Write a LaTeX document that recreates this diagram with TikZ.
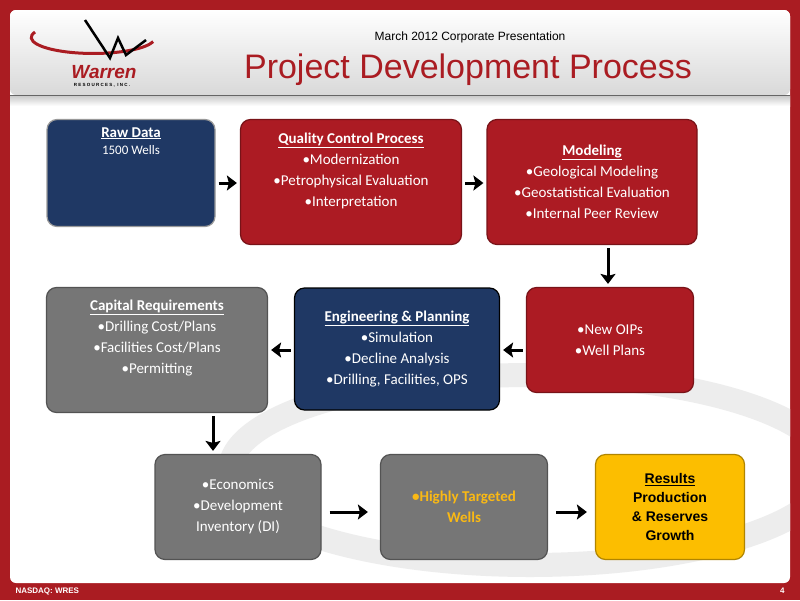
\documentclass[tikz,border=0pt]{standalone}
\usepackage{fontspec}
\setmainfont{Carlito}
\newfontfamily\arialfont{Liberation Sans}
\usetikzlibrary{positioning,arrows.meta,calc}
\definecolor{wred}{RGB}{170,28,34}
\definecolor{boxred}{RGB}{172,27,35}
\definecolor{navy}{RGB}{31,56,100}
\definecolor{boxgray}{RGB}{118,118,118}
\definecolor{gold}{RGB}{252,190,0}
\definecolor{goldtxt}{RGB}{250,185,20}
\begin{document}
\begin{tikzpicture}[
        x=1pt, y=-1pt,
        >=Latex,
        box/.style={draw=#1!70!black, line width=1.2pt, rounded corners=10pt, fill=#1, text=white, align=center, font=\fontsize{15}{21}\selectfont},
        flow/.style={-{Stealth[length=10pt,width=15pt,inset=2pt]}, line width=3pt}
    ]
        % Frame and header
        \useasboundingbox (0,0) rectangle (800,600);
        \fill[wred] (0,0) rectangle (800,600);
        \fill[white, rounded corners=6pt] (10,10) rectangle (790,583);
        \shade[top color=white, bottom color=black!15, rounded corners=6pt] (10,10) rectangle (790,95);
        \draw[black!60, line width=1pt] (10,95) -- (790,95);
        \shade[top color=black!20, bottom color=white] (10,96) rectangle (790,106);
        % Background swoosh
        \begin{scope}
            \clip (10,106) rectangle (790,583);
            \draw[black!7, line width=24pt] (530,470) ellipse[x radius=300, y radius=95];
        \end{scope}
        % Logo
        \draw[wred, line width=3pt] (35,32) arc[start angle=160, end angle=345, x radius=62, y radius=-16];
        \draw[black, line width=2.5pt] (85,20) -- (110,58) -- (118,38) -- (126,55) -- (146,40);
        \node[wred, font=\arialfont\bfseries\itshape\fontsize{19}{20}\selectfont] (logo) at (104,72) {Warren};
        \node[font=\arialfont\bfseries\fontsize{4.5}{5}\selectfont] (logosub) at (102,85) {R E S O U R C E S ,\ \ I N C .};
        % Titles
        \node[font=\arialfont\fontsize{12}{14}\selectfont] (sub) at (470,37) {March 2012 Corporate Presentation};
        \node[wred, font=\arialfont\fontsize{34}{40}\selectfont] (title) at (468,70) {Project Development Process};
        % Boxes
        \node[box=navy, draw=black!40, minimum width=168, minimum height=107] (raw) at (131,173) {};
        \node[anchor=north, text=white, align=center, font=\fontsize{15}{17}\selectfont] (rawtxt) at ([yshift=-5pt]raw.north) {\textbf{\underline{Raw Data}}\\{\fontsize{13}{15}\selectfont 1500 Wells}};
        \node[box=boxred, minimum width=221, minimum height=125] (qc) at (351,182) {\textbf{\underline{Quality Control Process}}\\•Modernization\\•Petrophysical Evaluation\\•Interpretation\\[4pt]};
        \node[box=boxred, minimum width=210, minimum height=125] (model) at (592,182) {\textbf{\underline{Modeling}}\\•Geological Modeling\\•Geostatistical Evaluation\\•Internal Peer Review};
        \node[box=boxred, minimum width=167, minimum height=105] (oip) at (610,340) {•New OIPs\\•Well Plans};
        \node[box=navy, draw=black, minimum width=205, minimum height=122] (eng) at (397,349) {\textbf{\underline{Engineering \& Planning}}\\•Simulation\\•Decline Analysis\\•Drilling, Facilities, OPS};
        \node[box=boxgray, minimum width=221, minimum height=125] (cap) at (157,350) {\textbf{\underline{Capital Requirements}}\\•Drilling Cost/Plans\\•Facilities Cost/Plans\\•Permitting\\[6pt]};
        \node[box=boxgray, minimum width=166, minimum height=105] (econ) at (238,507) {•Economics\\•Development\\Inventory (DI)};
        \node[box=boxgray, text=goldtxt, font=\bfseries\fontsize{15}{21}\selectfont, minimum width=167, minimum height=105] (wells) at (464,507) {•Highly Targeted\\Wells};
        \node[box=gold, text=black, font=\arialfont\bfseries\fontsize{14}{19}\selectfont, minimum width=149, minimum height=105] (res) at (670,507) {\underline{Results}\\Production\\\& Reserves\\Growth};
        % Flow arrows
        \draw[flow] ([xshift=3pt]raw.east |- 0,183) -- ([xshift=-3pt]qc.west |- 0,183);
        \draw[flow] ([xshift=3pt]qc.east |- 0,183) -- ([xshift=-3pt]model.west |- 0,183);
        \draw[flow] ([yshift=-3pt]model.south -| 608,0) -- ([yshift=3pt]oip.north -| 608,0);
        \draw[flow] ([xshift=-3pt]oip.west |- 0,350) -- ([xshift=3pt]eng.east |- 0,350);
        \draw[flow] ([xshift=-3pt]eng.west |- 0,350) -- ([xshift=3pt]cap.east |- 0,350);
        \draw[flow] ([yshift=-3pt]cap.south -| 213,0) -- ([yshift=3pt]econ.north -| 213,0);
        \draw[flow] ([xshift=8pt]econ.east |- 0,512) -- ([xshift=-12pt]wells.west |- 0,512);
        \draw[flow] ([xshift=8pt]wells.east |- 0,512) -- ([xshift=-8pt]res.west |- 0,512);
        % Footer
        \node[white, anchor=west, font=\arialfont\bfseries\fontsize{8}{9}\selectfont] (nasdaq) at (12,591) {NASDAQ: WRES};
        \node[white, anchor=east, font=\arialfont\bfseries\fontsize{8}{9}\selectfont] (page) at (788,591) {4};
    \end{tikzpicture}
\end{document}
